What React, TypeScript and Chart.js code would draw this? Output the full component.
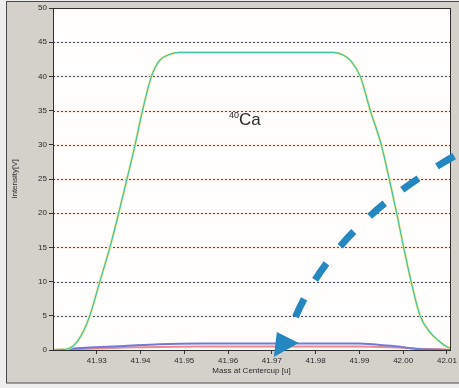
import React, { useEffect, useRef } from "react";
import { Chart, registerables } from "chart.js";

Chart.register(...registerables);

// ---- data ----
const massGreen = [41.92, 41.9216, 41.9239, 41.9255, 41.927, 41.9284, 41.9307, 41.933, 41.935, 41.9369, 41.93875, 41.94045, 41.9425, 41.9443, 41.9466, 41.9489, 41.96, 41.972, 41.9841, 41.9864, 41.988, 41.9902, 41.9925, 41.995, 41.99682, 41.99852, 42.00011, 42.00182, 42.00386, 42.0061, 42.008, 42.0102, 42.0107];
const intensityGreen = [0.0, 0.05, 0.3, 1.2, 2.8, 5.0, 10.0, 15.0, 20.0, 25.0, 30.0, 35.0, 40.0, 42.3, 43.2, 43.5, 43.5, 43.5, 43.5, 43.1, 42.3, 40.0, 35.0, 30.0, 25.0, 20.0, 15.0, 10.0, 5.0, 2.6, 1.4, 0.4, 0.3];

const massLow = [41.92, 41.922, 41.9284, 41.9364, 41.9443, 41.9534, 41.97, 41.9898, 41.9943, 41.9989, 42.0034, 42.008, 42.0107];
const intensityBlue = [0.0, 0.1, 0.35, 0.6, 0.85, 0.95, 0.95, 0.95, 0.75, 0.5, 0.15, 0.05, 0.0];
const intensityRed = [0.0, 0.05, 0.2, 0.35, 0.45, 0.5, 0.5, 0.5, 0.45, 0.35, 0.2, 0.1, 0.05];

const xTickValues = [41.93, 41.94, 41.95, 41.96, 41.97, 41.98, 41.99, 42.0, 42.01];
const yTickValues = [0, 5, 10, 15, 20, 25, 30, 35, 40, 45, 50];
const xRange = [41.92, 42.0107];
const yRange = [0, 50];

const xTitle = "Mass at Centercup [u]";
const yTitle = "Intensity[V]";
const peakLabelSup = "40";
const peakLabel = "Ca";
const peakLabelAnchor = [41.9625, 32.9];

// arrow annotation, in data coordinates (start, control, end of shaft; arrowhead triangle)
const arrowShaft = [[42.01295, 28.8], [41.9817, 17.7], [41.97364, 1.83]];
const arrowHead = [[41.97114, 2.63], [41.97614, 1.02], [41.97045, -1.02]];

const FONT = "'Liberation Sans', Arial, sans-serif";
const TEXT = "#2a2a2a";

const backgroundPlugin = {
  id: "bg",
  beforeDraw(chart: any) {
    const { ctx, width, height, chartArea: a } = chart;
    ctx.save();
    ctx.fillStyle = "#eeeeee";
    ctx.fillRect(0, 0, width, height);
    ctx.fillStyle = "#d4d1ca";
    ctx.fillRect(6, 1, width - 6, 382);
    ctx.strokeStyle = "#4a4a4a";
    ctx.lineWidth = 1;
    ctx.strokeRect(6.5, 1.5, width + 5, 381.5);
    ctx.fillStyle = "#fffefc";
    ctx.fillRect(a.left, a.top, a.right - a.left, a.bottom - a.top);
    ctx.restore();
  },
  beforeDatasetsDraw(chart: any) {
    const { ctx, chartArea: a } = chart;
    const ys = chart.scales.y;
    ctx.save();
    yTickValues.forEach((v) => {
      if (v === yRange[0] || v === yRange[1]) return;
      const y = Math.round(ys.getPixelForValue(v)) + 0.5;
      ctx.strokeStyle = "rgba(240,190,175,0.22)";
      ctx.lineWidth = 3;
      ctx.setLineDash([]);
      ctx.beginPath();
      ctx.moveTo(a.left, y);
      ctx.lineTo(a.right, y);
      ctx.stroke();
      ctx.strokeStyle = "#3e4c60";
      ctx.lineWidth = 1;
      ctx.setLineDash([2, 2]);
      ctx.beginPath();
      ctx.moveTo(a.left, y);
      ctx.lineTo(a.right, y);
      ctx.stroke();
    });
    ctx.restore();
  },
  afterDatasetsDraw(chart: any) {
    const { ctx, chartArea: a } = chart;
    ctx.save();
    ctx.strokeStyle = "#2f2f2f";
    ctx.lineWidth = 1;
    ctx.strokeRect(Math.round(a.left) + 0.5, Math.round(a.top) + 0.5, Math.round(a.right - a.left), Math.round(a.bottom - a.top));
    ctx.restore();
  },
  afterDraw(chart: any) {
    const { ctx } = chart;
    const xs = chart.scales.x;
    const ys = chart.scales.y;
    const px = (p: number[]) => [xs.getPixelForValue(p[0]), ys.getPixelForValue(p[1])];
    ctx.save();
    // peak label
    const [lx, ly] = px(peakLabelAnchor);
    ctx.fillStyle = TEXT;
    ctx.textBaseline = "alphabetic";
    ctx.font = `17px ${FONT}`;
    ctx.textAlign = "left";
    ctx.fillText(peakLabel, lx, ly);
    ctx.font = `9px ${FONT}`;
    ctx.textAlign = "right";
    ctx.fillText(peakLabelSup, lx, ly - 7);
    // arrow
    const [e, c, s] = [px(arrowShaft[2]), px(arrowShaft[1]), px(arrowShaft[0])];
    ctx.strokeStyle = "#2587bf";
    ctx.fillStyle = "#2587bf";
    ctx.lineWidth = 7;
    ctx.lineCap = "butt";
    ctx.setLineDash([20, 22]);
    ctx.lineDashOffset = 20;
    ctx.beginPath();
    ctx.moveTo(e[0], e[1]);
    ctx.quadraticCurveTo(c[0], c[1], s[0], s[1]);
    ctx.stroke();
    ctx.setLineDash([]);
    const h = arrowHead.map(px);
    ctx.beginPath();
    ctx.moveTo(h[0][0], h[0][1]);
    ctx.lineTo(h[1][0], h[1][1]);
    ctx.lineTo(h[2][0], h[2][1]);
    ctx.closePath();
    ctx.fill();
    ctx.restore();
  },
};

export default function App() {
  const ref = useRef<HTMLCanvasElement | null>(null);
  useEffect(() => {
    if (!ref.current) return;
    const greenA = massGreen.map((m, i) => ({ x: m, y: intensityGreen[i] }));
    const greenB = massGreen.map((m, i) => ({ x: m, y: intensityGreen[i] }));
    const blue = massLow.map((m, i) => ({ x: m, y: intensityBlue[i] }));
    const red = massLow.map((m, i) => ({ x: m, y: intensityRed[i] }));
    const tickFont = { family: FONT, size: 8 };
    const chart = new Chart(ref.current, {
      type: "line",
      data: {
        datasets: [
          { data: greenB, borderColor: "#3dc2a2", borderWidth: 1.2, pointRadius: 0, cubicInterpolationMode: "monotone", order: 0 },
          { data: greenA, borderColor: "#efed9e", borderWidth: 2.6, pointRadius: 0, cubicInterpolationMode: "monotone", order: 1 },
          { data: blue, borderColor: "#717ad8", borderWidth: 2, pointRadius: 0, cubicInterpolationMode: "monotone", order: 2 },
          { data: red, borderColor: "#f08a8a", borderWidth: 2, pointRadius: 0, cubicInterpolationMode: "monotone", order: 3 },
        ],
      },
      options: {
        animation: false,
        responsive: false,
        devicePixelRatio: 1,
        layout: { padding: { top: 8, right: 7, left: 0, bottom: 0 } },
        plugins: { legend: { display: false }, tooltip: { enabled: false } },
        scales: {
          x: {
            type: "linear",
            min: xRange[0],
            max: xRange[1],
            afterBuildTicks: (s: any) => {
              s.ticks = xTickValues.map((v) => ({ value: v }));
            },
            afterFit: (s: any) => {
              s.height = 38;
            },
            ticks: {
              autoSkip: false,
              maxRotation: 0,
              padding: 2,
              font: tickFont,
              color: TEXT,
              callback: (v: any) => Number(v).toFixed(2),
            },
            grid: { drawOnChartArea: false, drawTicks: true, tickLength: 4, tickColor: "#333", color: "#333" },
            border: { display: true, color: "#2f2f2f" },
            title: { display: true, text: xTitle, font: tickFont, color: TEXT, padding: { top: 0, bottom: 12 } },
          },
          y: {
            type: "linear",
            min: yRange[0],
            max: yRange[1],
            afterBuildTicks: (s: any) => {
              s.ticks = yTickValues.map((v) => ({ value: v }));
            },
            afterFit: (s: any) => {
              s.width = 53;
            },
            ticks: { padding: 2, font: tickFont, color: TEXT, callback: (v: any) => String(v) },
            grid: { drawOnChartArea: false, drawTicks: true, tickLength: 4, tickColor: "#333", color: "#333" },
            border: { display: true, color: "#2f2f2f" },
            title: { display: true, text: yTitle, font: tickFont, color: TEXT, padding: { top: 10, bottom: 0 } },
          },
        },
      } as any,
      plugins: [backgroundPlugin],
    } as any);
    return () => chart.destroy();
  }, []);
  return (
    <div style={{ position: "fixed", left: 0, top: 0, width: 459, height: 388 }}>
      <canvas ref={ref} width={459} height={388} style={{ display: "block", width: 459, height: 388 }} />
    </div>
  );
}
